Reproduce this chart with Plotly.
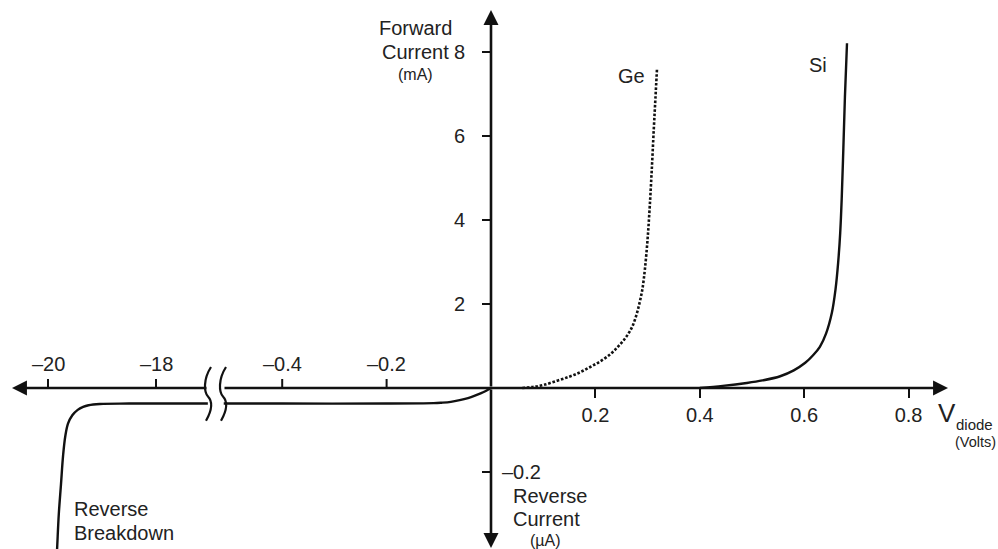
import plotly.graph_objects as go

# ---------------- data ----------------
# Forward characteristics: voltage (V) and current (mA)
ge_v = [0.060, 0.080, 0.100, 0.126, 0.150, 0.170, 0.190, 0.210, 0.230, 0.243, 0.255, 0.265, 0.272,
        0.280, 0.285, 0.290, 0.295, 0.300, 0.304, 0.308, 0.312, 0.315, 0.318]
ge_i = [0.000, 0.025, 0.070, 0.170, 0.270, 0.370, 0.500, 0.640, 0.820, 0.980, 1.150, 1.330, 1.500,
        1.800, 2.050, 2.350, 2.850, 3.550, 4.300, 5.200, 6.200, 6.900, 7.600]

si_v = [0.400, 0.444, 0.490, 0.520, 0.554, 0.580, 0.602, 0.617, 0.630, 0.642, 0.653, 0.660,
        0.665, 0.669, 0.672, 0.675, 0.678, 0.682]
si_i = [0.000, 0.050, 0.120, 0.180, 0.280, 0.420, 0.600, 0.780, 0.980, 1.300, 1.790, 2.350,
        2.980, 3.700, 4.550, 5.700, 6.930, 8.210]

# Reverse characteristic: voltage (V) and current (uA)
rev_small_v = [0.0, -0.010, -0.020, -0.032, -0.044, -0.060, -0.077, -0.095, -0.110, -0.200, -0.400, -0.512]
rev_small_i = [0.0, -0.007, -0.013, -0.019, -0.024, -0.029, -0.033, -0.035, -0.036, -0.037, -0.037, -0.037]
rev_big_v = [-17.04, -18.50, -19.04, -19.25, -19.35, -19.45, -19.55, -19.63, -19.68, -19.72, -19.76, -19.80, -19.83, -19.86]
rev_big_i = [-0.037, -0.037, -0.038, -0.041, -0.045, -0.052, -0.065, -0.085, -0.115, -0.160, -0.230, -0.300, -0.379, -0.460]

# Tick values / labels
x_pos_ticks = [0.2, 0.4, 0.6, 0.8]
x_neg_small_ticks = [-0.2, -0.4]
x_neg_big_ticks = [-18, -20]
y_pos_ticks = [2, 4, 6, 8]          # mA
y_neg_ticks = [-0.2]                # uA

# ---------------- broken-axis transforms ----------------
W, H = 998, 549
ORIGIN_PX, PX_PER_V = 491.0, 522.0          # small-voltage scale
BIG_REF_V, BIG_REF_PX, BIG_PX_PER_V = -18.0, 156.0, 54.0  # compressed breakdown scale
ORIGIN_PY, PX_PER_MA = 388.0, 42.0
UA_FACTOR = 10.0                             # 1 uA drawn as 10 "mA units"


def xu_small(v):
    return v


def xu_big(v):
    px = BIG_REF_PX + BIG_PX_PER_V * (v - BIG_REF_V)
    return (px - ORIGIN_PX) / PX_PER_V


def yu_ua(i):
    return i * UA_FACTOR


X_MIN = -ORIGIN_PX / PX_PER_V
X_MAX = (W - ORIGIN_PX) / PX_PER_V
Y_MAX = ORIGIN_PY / PX_PER_MA
Y_MIN = (ORIGIN_PY - H) / PX_PER_MA

BREAK_L = (208 - ORIGIN_PX) / PX_PER_V
BREAK_R = (223 - ORIGIN_PX) / PX_PER_V
LEFT_TIP = (12 - ORIGIN_PX) / PX_PER_V
RIGHT_TIP = (948 - ORIGIN_PX) / PX_PER_V
TOP_TIP = (ORIGIN_PY - 10) / PX_PER_MA
BOT_TIP = (ORIGIN_PY - 548) / PX_PER_MA

FONT = "Liberation Sans, Arial, sans-serif"
INK = "#111111"
TXT = "#222222"
TICK_LEN = 9

fig = go.Figure()

curve = dict(mode="lines", hoverinfo="skip", showlegend=False)
fig.add_trace(go.Scatter(
    x=[xu_small(v) for v in ge_v], y=ge_i,
    line=dict(color=INK, width=2.6, dash="2.6px,1.8px", shape="spline", smoothing=1.0), **curve))
fig.add_trace(go.Scatter(
    x=[xu_small(v) for v in si_v], y=si_i,
    line=dict(color=INK, width=2.4, shape="spline", smoothing=1.0), **curve))
fig.add_trace(go.Scatter(
    x=[xu_small(v) for v in rev_small_v], y=[yu_ua(i) for i in rev_small_i],
    line=dict(color=INK, width=2.4, shape="spline", smoothing=1.0), **curve))
fig.add_trace(go.Scatter(
    x=[xu_big(v) for v in rev_big_v], y=[yu_ua(i) for i in rev_big_i],
    line=dict(color=INK, width=2.4, shape="spline", smoothing=1.0), **curve))

pos_x = (0 - X_MIN) / (X_MAX - X_MIN)
pos_y = (0 - Y_MIN) / (Y_MAX - Y_MIN)

tickfont = dict(family=FONT, size=20, color=TXT)
common = dict(showgrid=False, zeroline=False, showline=False, ticks="outside",
              ticklen=TICK_LEN, tickwidth=2, tickcolor=INK, tickfont=tickfont, fixedrange=True,
              domain=[0, 1], anchor="free")

fig.update_layout(
    width=W, height=H, margin=dict(l=0, r=0, t=0, b=0),
    paper_bgcolor="white", plot_bgcolor="white",
    xaxis=dict(range=[X_MIN, X_MAX], position=pos_y, side="bottom",
               tickvals=x_pos_ticks, ticktext=[f"{t:.1f}" for t in x_pos_ticks], **common),
    yaxis=dict(range=[Y_MIN, Y_MAX], position=pos_x, side="left", ticklabelstandoff=13,
               tickvals=y_pos_ticks, ticktext=[str(t) for t in y_pos_ticks], **common),
)

# negative-side ticks (pointing up for voltage, left for reverse current) and their labels
neg_x_pos = [xu_small(t) for t in x_neg_small_ticks] + [xu_big(t) for t in x_neg_big_ticks]
neg_x_txt = ["\u2013" + f"{abs(t):.1f}" for t in x_neg_small_ticks] + \
            ["\u2013" + f"{abs(t):d}" for t in x_neg_big_ticks]
for xv, txt in zip(neg_x_pos, neg_x_txt):
    fig.add_shape(type="line", xref="x", yref="y", ysizemode="pixel", yanchor=0,
                  x0=xv, x1=xv, y0=0, y1=TICK_LEN, line=dict(color=INK, width=2))
    fig.add_annotation(x=xv, y=0, xref="x", yref="y", text=txt, showarrow=False,
                       yanchor="bottom", xanchor="center", yshift=TICK_LEN + 2,
                       font=tickfont)

for yv in y_neg_ticks:
    fig.add_shape(type="line", xref="x", yref="y", xsizemode="pixel", xanchor=0,
                  x0=-TICK_LEN, x1=0, y0=yu_ua(yv), y1=yu_ua(yv), line=dict(color=INK, width=2))
    fig.add_annotation(x=0, y=yu_ua(yv), xref="x", yref="y", text="\u2013" + f"{abs(yv):.1f}",
                       showarrow=False, xanchor="left", yanchor="middle", xshift=9,
                       font=tickfont)

# axis arrows
arrow = dict(text="", showarrow=True, arrowhead=2, arrowsize=1.15, arrowwidth=2.6,
             arrowcolor=INK, xref="x", yref="y", axref="x", ayref="y", standoff=0)
fig.add_annotation(x=RIGHT_TIP, y=0, ax=BREAK_R, ay=0, **arrow)
fig.add_annotation(x=LEFT_TIP, y=0, ax=BREAK_L, ay=0, **arrow)
fig.add_annotation(x=0, y=TOP_TIP, ax=0, ay=0, **arrow)
fig.add_annotation(x=0, y=BOT_TIP, ax=0, ay=0, **arrow)

# axis break squiggles
for bx in (BREAK_L, BREAK_R):
    dx = 5 / PX_PER_V
    top, bot = 0.5, -0.78
    path = (f"M {bx + dx*0.6},{top} C {bx - dx},{top - 0.3} {bx - dx*0.8},{-0.1} {bx},{-0.2} "
            f"S {bx + dx},{bot + 0.3} {bx - dx*0.4},{bot}")
    fig.add_shape(type="path", path=path, xref="x", yref="y",
                  line=dict(color=INK, width=2.2))


def label(text, px, py, size, xanchor="center"):
    fig.add_annotation(text=text, x=px / W, y=1 - py / H, xref="paper", yref="paper",
                       showarrow=False, xanchor=xanchor, yanchor="middle",
                       font=dict(family=FONT, size=size, color=TXT))


label("Forward", 415, 28, 20)
label("Current", 415, 52, 20)
label("(mA)", 415, 74, 16)
label("Ge", 631, 76, 20)
label("Si", 818, 65, 20)
label("V", 947, 413, 26)
label("diode", 954, 424, 15, xanchor="left")
label("(Volts)", 953, 442, 14.5, xanchor="left")
label("Reverse", 72, 509, 20, xanchor="left")
label("Breakdown", 72, 533, 20, xanchor="left")
label("Reverse", 511, 496, 20, xanchor="left")
label("Current", 511, 519, 20, xanchor="left")
label("(\u00b5A)", 545, 540, 16)

fig.write_html("out.html", config={"displayModeBar": False},
               post_script="document.body.style.margin='0';document.body.style.overflow='hidden';")
